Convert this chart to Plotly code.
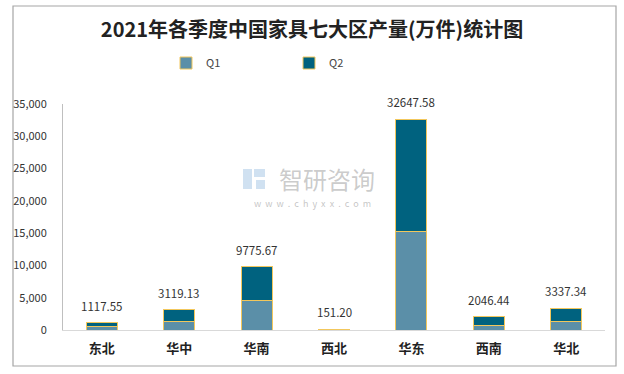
import plotly.graph_objects as go

regions = ["东北", "华中", "华南", "西北", "华东", "西南", "华北"]
totals = [1117.55, 3119.13, 9775.67, 151.20, 32647.58, 2046.44, 3337.34]
q1 = [550, 1285, 4540, 75, 15330, 775, 1240]
q2 = [round(t - a, 2) for t, a in zip(totals, q1)]
total_labels = [f"{t:.2f}" for t in totals]
y_ticks = [0, 5000, 10000, 15000, 20000, 25000, 30000, 35000]
y_tick_text = ["0", "5,000", "10,000", "15,000", "20,000", "25,000", "30,000", "35,000"]

C_Q1 = "#5b8fa8"
C_Q2 = "#00627f"
EDGE = "#f2c75c"
FONT = "Noto Sans CJK SC"

fig = go.Figure()
fig.add_trace(go.Bar(x=regions, y=q1, name="Q1", marker=dict(color=C_Q1, line=dict(color=EDGE, width=1))))
fig.add_trace(go.Bar(x=regions, y=q2, name="Q2", marker=dict(color=C_Q2, line=dict(color=EDGE, width=1))))

for r, t, lab in zip(regions, totals, total_labels):
    fig.add_annotation(x=r, y=t, text=lab, showarrow=False, yshift=17,
                       font=dict(family=FONT, size=11.5, color="#333333"))

# watermark
fig.add_annotation(xref="paper", yref="paper", x=(327 - 63) / 542, y=(330 - 178) / 226, text="智研咨询",
                   xanchor="center", yanchor="middle",
                   showarrow=False, font=dict(family=FONT, size=24, color="rgba(140,140,140,0.45)"))
fig.add_annotation(xref="paper", yref="paper", x=(312 - 63) / 542, y=(330 - 203) / 226,
                   xanchor="center", yanchor="middle",
                   text="w  w  w  .  c  h  y  x  x  .  c  o  m", showarrow=False,
                   font=dict(family=FONT, size=9, color="rgba(140,140,140,0.5)"))
for x0, x1, y0, y1 in [(243, 252, 169, 189), (254, 265, 169, 177), (256, 265, 180, 189)]:
    fig.add_shape(type="rect", xref="paper", yref="paper",
                  x0=(x0 - 63) / 542, x1=(x1 - 63) / 542, y0=(330 - y1) / 226, y1=(330 - y0) / 226,
                  line=dict(width=0), fillcolor="rgba(120,170,215,0.35)", layer="below")

fig.add_shape(type="rect", xref="paper", yref="paper", x0=(13 - 63) / 542, x1=(616 - 63) / 542,
              y0=(330 - 366) / 226, y1=(330 - 6) / 226,
              line=dict(color="#a6a6a6", width=1.2), fillcolor="rgba(0,0,0,0)", layer="below")

fig.update_layout(
    width=624, height=374,
    margin=dict(l=63, r=19, t=104, b=44),
    paper_bgcolor="white", plot_bgcolor="white",
    barmode="stack", bargap=0.6,
    title=dict(text="<b>2021年各季度中国家具七大区产量(万件)统计图</b>", x=0.5, xanchor="center",
               y=(374 - 30) / 374, yanchor="middle", font=dict(family=FONT, size=20, color="#222222")),
    legend=dict(orientation="h", x=(166 - 63) / 542, xanchor="left", y=(330 - 63) / 226, yanchor="middle",
                font=dict(family=FONT, size=11, color="#444444"), entrywidth=78, itemwidth=30,
                traceorder="normal"),
    font=dict(family=FONT),
    showlegend=True,
)
fig.update_xaxes(showline=True, linecolor="#d9d9d9", linewidth=1, ticks="", ticklabelstandoff=6,
                 tickfont=dict(family=FONT, size=13, color="#222222", weight="bold"), showgrid=False)
fig.update_yaxes(range=[0, 35000], tickvals=y_ticks, ticktext=y_tick_text, showgrid=False,
                 showline=True, linecolor="#bfbfbf", linewidth=1, ticks="", zeroline=False,
                 tickfont=dict(family=FONT, size=11, color="#333333"), ticklabelstandoff=13)

fig.write_html("out.html", config={"displayModeBar": False},
               post_script="document.body.style.margin='0';")
